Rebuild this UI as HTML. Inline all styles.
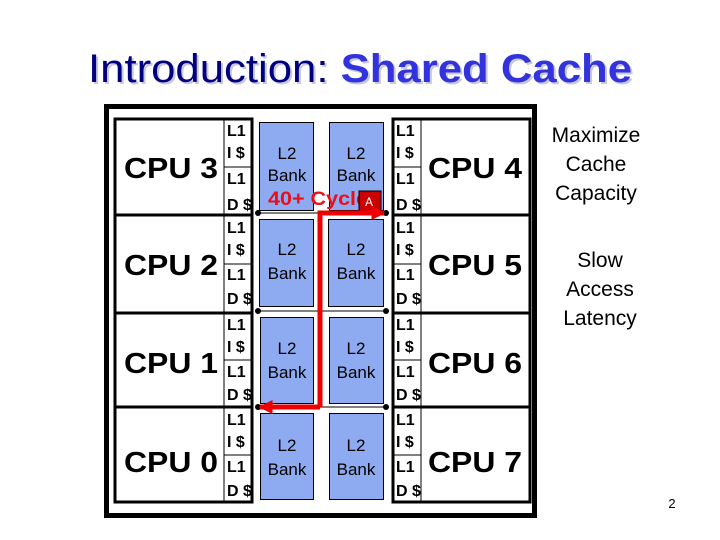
<!DOCTYPE html>
<html><head><meta charset="utf-8"><style>
html,body{margin:0;padding:0;background:#fff;}
svg{display:block;font-family:"Liberation Sans",Arial,sans-serif;}
</style></head><body>
<svg width="720" height="540" viewBox="0 0 720 540" xmlns="http://www.w3.org/2000/svg">
<defs>
<marker id="ah" viewBox="0 0 10 10" refX="9" refY="5" markerWidth="2.8" markerHeight="2.8" orient="auto"><path d="M0,0L10,5L0,10z" fill="#ee0000"/></marker>
</defs>
<g font-size="40">
<text x="90" y="84" fill="#c8c8d8" textLength="544" lengthAdjust="spacingAndGlyphs"><tspan>Introduction: </tspan><tspan font-weight="bold">Shared Cache</tspan></text>
<text x="88" y="82" textLength="544" lengthAdjust="spacingAndGlyphs"><tspan fill="#000080">Introduction: </tspan><tspan fill="#3333dd" font-weight="bold">Shared Cache</tspan></text>
</g>
<rect x="106.5" y="106.5" width="428" height="409" fill="none" stroke="#000" stroke-width="5"/>
<rect x="115" y="119" width="137" height="383" fill="#fff" stroke="#000" stroke-width="3"/>
<line x1="224" y1="119" x2="224" y2="502" stroke="#000" stroke-width="1"/>
<rect x="393" y="119" width="137" height="383" fill="#fff" stroke="#000" stroke-width="3"/>
<line x1="421" y1="119" x2="421" y2="502" stroke="#000" stroke-width="1"/>
<g stroke="#000" stroke-width="3">
<line x1="115" y1="215" x2="252" y2="215"/><line x1="115" y1="313" x2="252" y2="313"/><line x1="115" y1="407" x2="252" y2="407"/>
<line x1="393" y1="215" x2="530" y2="215"/><line x1="393" y1="313" x2="530" y2="313"/><line x1="393" y1="407" x2="530" y2="407"/>
</g>
<g stroke="#000" stroke-width="1">
<line x1="224" y1="167" x2="252" y2="167"/><line x1="224" y1="264" x2="252" y2="264"/><line x1="224" y1="360" x2="252" y2="360"/><line x1="224" y1="455" x2="252" y2="455"/>
<line x1="393" y1="167" x2="421" y2="167"/><line x1="393" y1="264" x2="421" y2="264"/><line x1="393" y1="360" x2="421" y2="360"/><line x1="393" y1="455" x2="421" y2="455"/>
</g>
<g stroke="#000" stroke-width="1">
<line x1="258" y1="213" x2="386" y2="213"/><line x1="258" y1="311" x2="386" y2="311"/><line x1="258" y1="407" x2="386" y2="407"/>
</g>
<g fill="#000">
<circle cx="258" cy="213" r="3"/><circle cx="386" cy="213" r="3"/>
<circle cx="258" cy="311" r="3"/><circle cx="386" cy="311" r="3"/>
<circle cx="258" cy="407" r="3"/><circle cx="386" cy="407" r="3"/>
</g>
<g fill="#8eaaf0" stroke="#000" stroke-width="1">
<rect x="259.5" y="122.5" width="54" height="88"/><rect x="329.5" y="122.5" width="54" height="88"/>
<rect x="259.5" y="219.5" width="54" height="87"/><rect x="328.5" y="219.5" width="55" height="87"/>
<rect x="260.5" y="317.5" width="53" height="86"/><rect x="329.5" y="317.5" width="54" height="86"/>
<rect x="260.5" y="413.5" width="53" height="86"/><rect x="329.5" y="413.5" width="54" height="86"/>
</g>
<g font-size="17" fill="#000" text-anchor="middle">
<text x="287" y="159">L2</text><text x="287" y="181">Bank</text>
<text x="356" y="159">L2</text><text x="356" y="181">Bank</text>
<text x="287" y="255">L2</text><text x="287" y="279">Bank</text>
<text x="356" y="255">L2</text><text x="356" y="279">Bank</text>
<text x="287" y="354">L2</text><text x="287" y="378">Bank</text>
<text x="356" y="354">L2</text><text x="356" y="378">Bank</text>
<text x="287" y="451">L2</text><text x="287" y="475">Bank</text>
<text x="356" y="451">L2</text><text x="356" y="475">Bank</text>
</g>
<text x="268" y="205" font-size="19" font-weight="bold" fill="#e8101a" textLength="112" lengthAdjust="spacingAndGlyphs">40+ Cycles</text>
<rect x="359" y="191" width="22" height="20" fill="#cc0000" stroke="#000" stroke-width="1"/>
<text x="369" y="206" font-size="12" fill="#fff" text-anchor="middle">A</text>
<polyline points="320,407 320,213 384,213" fill="none" stroke="#ee0000" stroke-width="5" marker-end="url(#ah)"/>
<polyline points="320,407 260,407" fill="none" stroke="#ee0000" stroke-width="5" marker-end="url(#ah)"/>
<g font-size="16" font-weight="bold" fill="#000">
<text x="227" y="136">L1</text><text x="227" y="158">I $</text><text x="227" y="184">L1</text><text x="227" y="210">D $</text>
<text x="227" y="233">L1</text><text x="227" y="255">I $</text><text x="227" y="280">L1</text><text x="227" y="304">D $</text>
<text x="227" y="330">L1</text><text x="227" y="352">I $</text><text x="227" y="377">L1</text><text x="227" y="400">D $</text>
<text x="227" y="425">L1</text><text x="227" y="447">I $</text><text x="227" y="472">L1</text><text x="227" y="496">D $</text>
<text x="396" y="136">L1</text><text x="396" y="158">I $</text><text x="396" y="184">L1</text><text x="396" y="210">D $</text>
<text x="396" y="233">L1</text><text x="396" y="255">I $</text><text x="396" y="280">L1</text><text x="396" y="304">D $</text>
<text x="396" y="330">L1</text><text x="396" y="352">I $</text><text x="396" y="377">L1</text><text x="396" y="400">D $</text>
<text x="396" y="425">L1</text><text x="396" y="447">I $</text><text x="396" y="472">L1</text><text x="396" y="496">D $</text>
</g>
<g font-size="29" font-weight="bold" fill="#000">
<text x="124" y="178" textLength="94" lengthAdjust="spacingAndGlyphs">CPU 3</text>
<text x="124" y="275" textLength="94" lengthAdjust="spacingAndGlyphs">CPU 2</text>
<text x="124" y="373" textLength="94" lengthAdjust="spacingAndGlyphs">CPU 1</text>
<text x="124" y="472" textLength="94" lengthAdjust="spacingAndGlyphs">CPU 0</text>
<text x="428" y="178" textLength="94" lengthAdjust="spacingAndGlyphs">CPU 4</text>
<text x="428" y="275" textLength="94" lengthAdjust="spacingAndGlyphs">CPU 5</text>
<text x="428" y="373" textLength="94" lengthAdjust="spacingAndGlyphs">CPU 6</text>
<text x="428" y="472" textLength="94" lengthAdjust="spacingAndGlyphs">CPU 7</text>
</g>
<g font-size="21" fill="#000" text-anchor="middle">
<text x="596" y="142">Maximize</text><text x="596" y="171">Cache</text><text x="596" y="200">Capacity</text>
<text x="600" y="267">Slow</text><text x="600" y="296">Access</text><text x="600" y="325">Latency</text>
</g>
<text x="672" y="508" font-size="13" fill="#000" text-anchor="middle">2</text>
</svg>
</body></html>
